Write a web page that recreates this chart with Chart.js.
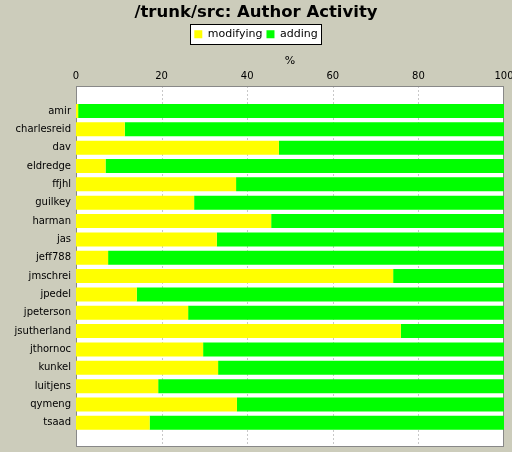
<!DOCTYPE html>
<html>
<head>
<meta charset="utf-8">
<script src="https://cdn.jsdelivr.net/npm/chart.js@4.4.1/dist/chart.umd.min.js"></script>
<style>
html,body{margin:0;padding:0;background:#ccccbb;}
#wrap{width:512px;height:452px;position:relative;}
</style>
</head>
<body>
<div id="wrap"><canvas id="c" width="512" height="452"></canvas></div>
<script>
const titleText = '/trunk/src: Author Activity';
const axisTitle = '%';
const authors = ['amir','charlesreid','dav','eldredge','ffjhl','guilkey','harman','jas','jeff788','jmschrei','jpedel','jpeterson','jsutherland','jthornoc','kunkel','luitjens','qymeng','tsaad'];
const modifying = [0.5, 11.4, 47.4, 6.9, 37.4, 27.6, 45.6, 32.9, 7.5, 74.1, 14.2, 26.2, 75.9, 29.7, 33.2, 19.2, 37.6, 17.2];
const adding = [99.5, 88.6, 52.6, 93.1, 62.6, 72.4, 54.4, 67.1, 92.5, 25.9, 85.8, 73.8, 24.1, 70.3, 66.8, 80.8, 62.4, 82.8];
const xTicks = [0, 20, 40, 60, 80, 100];

const FONT = 'DejaVu Sans';

const framePlugin = {
  id: 'frame',
  beforeDraw(chart) {
    const ctx = chart.ctx;
    const ca = chart.chartArea;
    const xs = chart.scales.x;
    ctx.save();
    ctx.fillStyle = '#ccccbb';
    ctx.fillRect(0, 0, chart.width, chart.height);
    // plot background
    const top = Math.round(ca.top - 16), bottom = Math.round(ca.bottom + 15);
    const left = Math.round(ca.left), right = Math.round(ca.right);
    ctx.fillStyle = '#ffffff';
    ctx.fillRect(left, top, right - left, bottom - top);
    // grid
    ctx.strokeStyle = '#c8c8c8';
    ctx.lineWidth = 1;
    ctx.setLineDash([2, 2]);
    xTicks.slice(1, -1).forEach(v => {
      const px = Math.round(xs.getPixelForValue(v)) + 0.5;
      ctx.beginPath();
      ctx.moveTo(px, top);
      ctx.lineTo(px, bottom);
      ctx.stroke();
    });
    ctx.setLineDash([]);
    ctx.strokeStyle = '#888888';
    ctx.strokeRect(left + 0.5, top + 0.5, right - left - 1, bottom - top - 1);
    // legend frame
    const hb = chart.legend.legendHitBoxes;
    if (hb && hb.length) {
      const l = Math.round(hb[0].left - 4);
      const r = Math.round(hb[hb.length - 1].left + hb[hb.length - 1].width + 4);
      const cy = hb[0].top + hb[0].height / 2;
      const t = Math.round(cy - 10.5), b = Math.round(cy + 10.5);
      ctx.fillStyle = '#ffffff';
      ctx.fillRect(l, t, r - l, b - t);
      ctx.strokeStyle = '#000000';
      ctx.strokeRect(l + 0.5, t + 0.5, r - l - 1, b - t - 1);
    }
    ctx.restore();
  }
};

new Chart(document.getElementById('c'), {
  type: 'bar',
  data: {
    labels: authors,
    datasets: [
      { label: 'modifying', data: modifying, backgroundColor: '#ffff00', borderWidth: 0 },
      { label: 'adding', data: adding, backgroundColor: '#00ff00', borderWidth: 0 }
    ]
  },
  options: {
    indexAxis: 'y',
    responsive: false,
    animation: false,
    devicePixelRatio: 1,
    layout: { padding: { left: 0, right: 0, top: 0, bottom: 20 } },
    scales: {
      x: {
        position: 'top',
        stacked: true,
        min: 0, max: 100,
        grid: { display: false, drawTicks: false },
        border: { display: false },
        ticks: { stepSize: 20, padding: 19.5, color: '#000', font: { family: FONT, size: 10 } },
        title: { display: true, text: axisTitle, color: '#000', padding: { top: 4.7, bottom: 0 }, font: { family: FONT, size: 11 } },
        afterFit(s) { s.height = 52; s.paddingLeft = 0; s.paddingRight = 8; }
      },
      y: {
        stacked: true,
        offset: true,
        grid: { display: false, drawTicks: false },
        border: { display: false },
        ticks: { padding: 5, color: '#000', font: { family: FONT, size: 10 }, autoSkip: false },
        afterFit(s) { s.width = 76; }
      }
    },
    datasets: { bar: { barPercentage: 0.763, categoryPercentage: 1.0 } },
    plugins: {
      title: { display: true, text: titleText, color: '#000', padding: { top: 3, bottom: 2 }, font: { family: FONT, size: 16.5, weight: 'bold' } },
      legend: {
        display: true,
        labels: { boxWidth: 8, boxHeight: 8, padding: 4, color: '#000', font: { family: FONT, size: 11 } }
      },
      tooltip: { enabled: false }
    }
  },
  plugins: [framePlugin]
});
</script>
</body>
</html>
